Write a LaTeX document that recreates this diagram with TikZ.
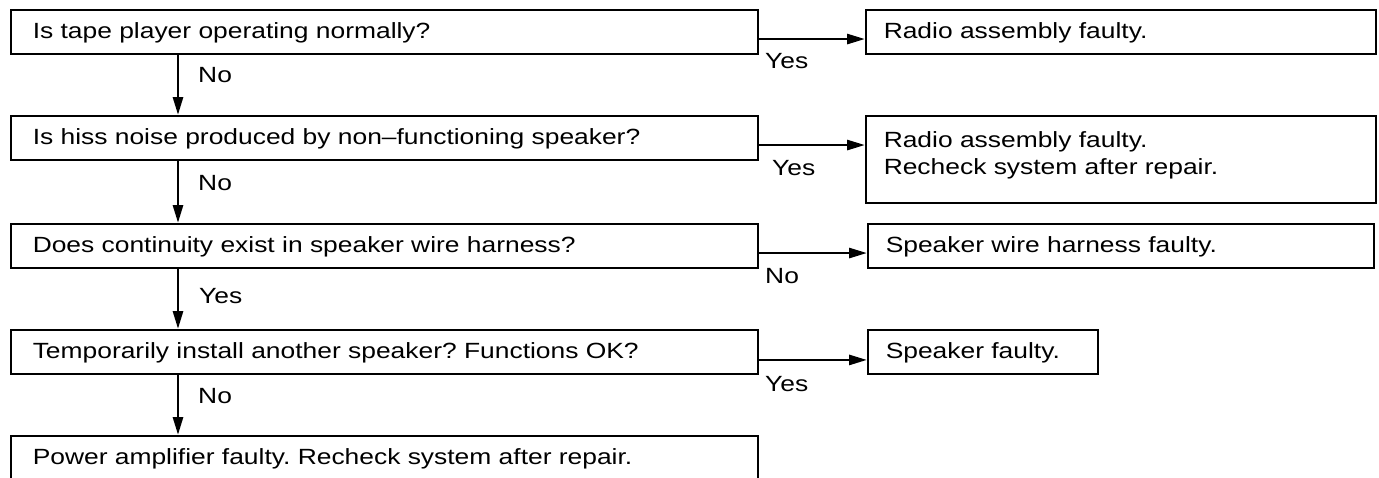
\documentclass[tikz,border=0pt]{standalone}
\usepackage{fontspec}
\setmainfont[FakeStretch=1.2]{Liberation Sans}
\usetikzlibrary{arrows.meta,calc}
\begin{document}
\frenchspacing
\begin{tikzpicture}[x=1pt,y=-1pt,
  every node/.style={font=\fontsize{22}{27}\selectfont},
  qbox/.style={draw=black,line width=1.5pt,anchor=north west,minimum width=747pt,minimum height=44pt,
    inner xsep=22pt,inner ysep=0pt,text width=703pt,align=left,text height=17pt,text depth=3pt},
  rbox/.style={draw=black,line width=1.5pt,anchor=north west,minimum height=44pt,
    inner xsep=18pt,inner ysep=0pt,align=left,text height=17pt,text depth=3pt},
  flow/.style={line width=2.8pt,-{Triangle[length=18pt,width=10pt]}},
  lbl/.style={anchor=base west,inner sep=0pt}]
\useasboundingbox (0,0) rectangle (1379,477);
% left column
\node[qbox] (q1) at (10,9) {Is tape player operating normally?};
\node[qbox] (q2) at (10,115) {Is hiss noise produced by non--functioning speaker?};
\node[qbox] (q3) at (10,223) {Does continuity exist in speaker wire harness?};
\node[qbox] (q4) at (10,329) {Temporarily install another speaker? Functions OK?};
\node[qbox] (q5) at (10,435) {Power amplifier faulty. Recheck system after repair.};
% right column
\node[rbox,minimum width=510pt,text width=474pt] (r1) at (865,9) {Radio assembly faulty.};
\node[rbox,minimum width=510pt,text width=474pt,minimum height=87pt,text height=16pt,text depth=39pt] (r2) at (865,115) {Radio assembly faulty.\\Recheck system after repair.};
\node[rbox,minimum width=506pt,text width=470pt] (r3) at (867,223) {Speaker wire harness faulty.};
\node[rbox,minimum width=230pt,text width=194pt] (r4) at (867,329) {Speaker faulty.};
% vertical line of the arrows
\coordinate (col) at (178,0);
% vertical arrows
\draw[flow] (q1.south -| col) -- (q2.north -| col);
\draw[flow] (q2.south -| col) -- (q3.north -| col);
\draw[flow] (q3.south -| col) -- (q4.north -| col);
\draw[flow] (q4.south -| col) -- (q5.north -| col);
% horizontal arrows
\coordinate (h1) at ($(q1.north east)!0.66!(q1.south east)$);
\coordinate (h2) at ($(q2.north east)!0.66!(q2.south east)$);
\coordinate (h3) at ($(q3.north east)!0.66!(q3.south east)$);
\coordinate (h4) at ($(q4.north east)!0.68!(q4.south east)$);
\draw[flow] (h1) -- (h1 -| r1.west);
\draw[flow] (h2) -- (h2 -| r2.west);
\draw[flow] (h3) -- (h3 -| r3.west);
\draw[flow] (h4) -- (h4 -| r4.west);
% labels
\node[lbl] (l1) at (198,82) {No};
\node[lbl] (l2) at (198,190) {No};
\node[lbl] (l3) at (199,303) {Yes};
\node[lbl] (l4) at (198,403) {No};
\node[lbl] (m1) at (765,68) {Yes};
\node[lbl] (m2) at (772,175) {Yes};
\node[lbl] (m3) at (765,283) {No};
\node[lbl] (m4) at (765,391) {Yes};
\end{tikzpicture}
\end{document}
